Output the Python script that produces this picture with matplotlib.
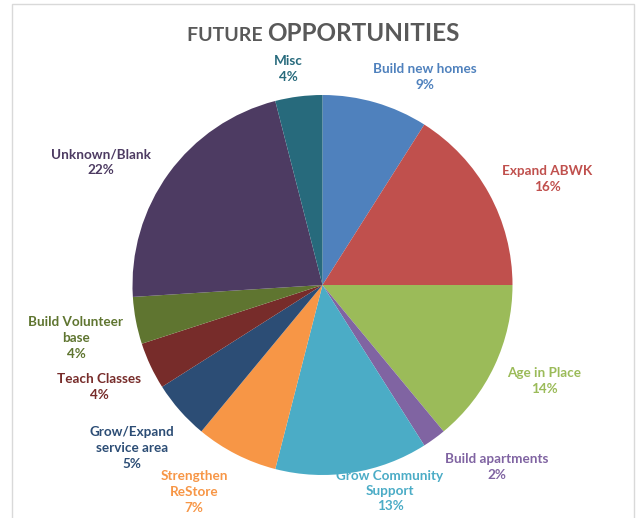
import matplotlib.pyplot as plt
from matplotlib.patches import Rectangle

# Survey results: future opportunities
categories = ['Build new homes', 'Expand ABWK', 'Age in Place', 'Build apartments',
              'Grow Community\nSupport', 'Strengthen\nReStore', 'Grow/Expand\nservice area',
              'Teach Classes', 'Build Volunteer\nbase', 'Unknown/Blank', 'Misc']
shares = [9, 16, 14, 2, 13, 7, 5, 4, 4, 22, 4]

colors = ['#4F81BD', '#C0504D', '#9BBB59', '#8064A2', '#4BACC6', '#F79646',
          '#2C4D75', '#772C2A', '#5F7530', '#4D3B62', '#276A7C']

# label block centres in pixels (x from left, y from top)
label_pos = [(425, 77), (547, 179), (544, 381), (497, 467), (390, 491), (194, 492),
             (132, 448), (99, 387), (76, 338), (101, 162), (288, 69)]

W, H = 639, 518
fig = plt.figure(figsize=(W / 100, H / 100), dpi=100)
fig.patch.set_facecolor('white')

# chart frame
fig.patches.append(Rectangle((12 / W, -0.1), (634 - 12) / W, (H - 4) / H + 0.1,
                             transform=fig.transFigure, fill=False,
                             edgecolor='#D9D9D9', linewidth=1))

cx, cy, r = 322.5, 285, 190
ax = fig.add_axes([(cx - r) / W, (H - cy - r) / H, 2 * r / W, 2 * r / H])
ax.pie(shares, colors=colors, startangle=90, counterclock=False,
       wedgeprops=dict(linewidth=0))
ax.set_xlim(-1, 1)
ax.set_ylim(-1, 1)
ax.set_aspect('equal')
ax.axis('off')

font = ['Lato', 'DejaVu Sans']
for name, val, col, (px, py) in zip(categories, shares, colors, label_pos):
    fig.text(px / W, 1 - py / H, f'{name}\n{val}%', color=col, ha='center', va='center',
             fontsize=9.7, fontweight='bold', family=font, linespacing=1.35)

# two-size title
t1 = fig.text(0.5, 1 - 41 / H, 'FUTURE ', color='#595959', fontsize=14, fontweight='bold',
              family=font, ha='right', va='baseline')
t2 = fig.text(0.5, 1 - 41 / H, 'OPPORTUNITIES', color='#595959', fontsize=17.5, fontweight='bold',
              family=font, ha='left', va='baseline')

fig.canvas.draw()
renderer = fig.canvas.get_renderer()
# centre the whole title line
w1 = t1.get_window_extent(renderer).width
w2 = t2.get_window_extent(renderer).width
xs = 323 / W + (w1 - w2) / 2 / W
t1.set_x(xs)
t2.set_x(xs)

fig.savefig('out.png', dpi=100)
